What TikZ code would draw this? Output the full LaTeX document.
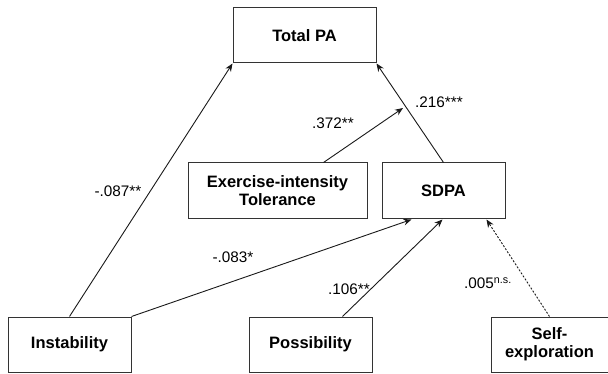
\documentclass[tikz,border=0pt]{standalone}
\usepackage{fontspec}
\setmainfont{Liberation Sans}
\usetikzlibrary{arrows.meta}
\begin{document}
\begin{tikzpicture}[x=1pt,y=-1pt,
  box/.style={draw=black!80,line width=1pt,fill=white,inner sep=0pt,align=center,
    font=\bfseries\fontsize{16.5}{18}\selectfont},
  conn/.style={line width=0.9pt,draw=black!90,-{Stealth[length=8pt,width=6.5pt]}},
  lab/.style={inner sep=0pt,font=\fontsize{15.3}{17}\selectfont}]
\useasboundingbox (0,0) rectangle (608,374);
\node[box,minimum width=143pt,minimum height=55pt] (total) at (304.5,35.5) {Total PA};
\node[box,minimum width=179pt,minimum height=56pt] (ex) at (277.5,191) {Exercise-intensity\\Tolerance};
\node[box,minimum width=123pt,minimum height=56pt] (sdpa) at (443.5,191) {SDPA};
\node[box,minimum width=123pt,minimum height=55pt] (inst) at (69.5,344.5) {Instability};
\node[box,minimum width=123pt,minimum height=55pt] (poss) at (310.5,344.5) {Possibility};
\node[box,minimum width=117pt,minimum height=55pt] (self) at (549.5,344.5) {Self-\\exploration};
\coordinate (mid) at (403,108);
\draw[conn] (inst.north) -- (total.south west);
\draw[conn] (sdpa.north) -- (total.south east);
\draw[conn] ([xshift=-44pt]ex.north east) -- (mid);
\draw[conn] (inst.north east) -- ([xshift=30pt]sdpa.south west);
\draw[conn] ([xshift=-30pt]poss.north east) -- ([xshift=-1pt]sdpa.south);
\draw[conn,dash pattern=on 2pt off 1.6pt] (self.north) -- ([xshift=-19pt]sdpa.south east);
\node[lab] (l087) at (118,191) {-.087**};
\node[lab] (l372) at (333,123) {.372**};
\node[lab] (l216) at (439,102) {.216***};
\node[lab] (l083) at (233,257) {-.083*};
\node[lab] (l106) at (349,289) {.106**};
\node[lab,anchor=west] (l005) at (464,283) {.005\textsuperscript{n.s.}};
\end{tikzpicture}
\end{document}
